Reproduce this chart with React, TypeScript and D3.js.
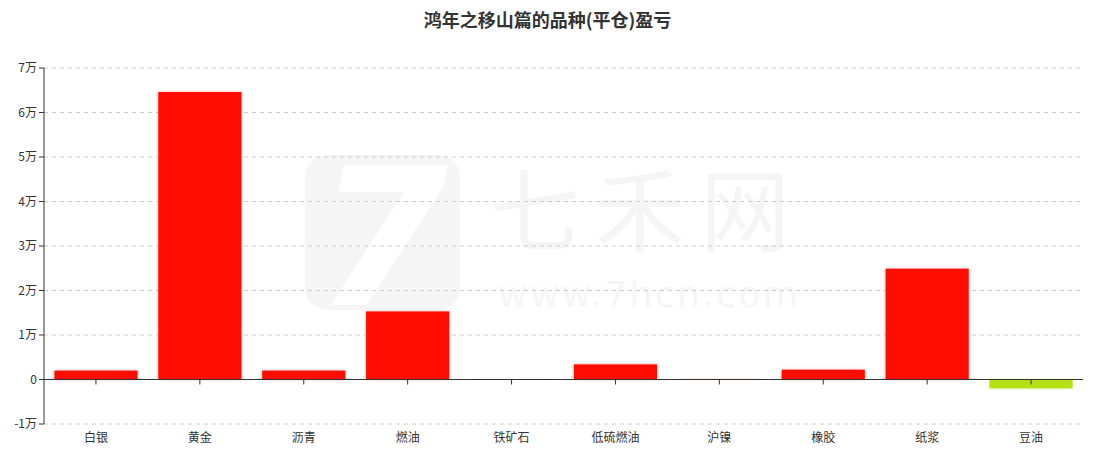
import React from "react";
import * as d3 from "d3";

const categories = ["白银", "黄金", "沥青", "燃油", "铁矿石", "低硫燃油", "沪镍", "橡胶", "纸浆", "豆油"];
const values = [2000, 64600, 2000, 15300, 60, 3400, 120, 2200, 24900, -2000];
const yTicks = [-10000, 0, 10000, 20000, 30000, 40000, 50000, 60000, 70000];
const title = "鸿年之移山篇的品种(平仓)盈亏";

const W = 1095, H = 456;
const left = 44, right = 1083, top = 68, bottom = 424;

export default function App() {
  const x = d3.scaleBand<string>().domain(categories).range([left, right]).paddingInner(0.2).paddingOuter(0.1);
  const xb = d3.scaleBand<string>().domain(categories).range([left, right]);
  const y = d3.scaleLinear().domain([-10000, 70000]).range([bottom, top]);
  const fmt = (v: number) => (v === 0 ? "0" : `${v / 10000}万`);
  const font = "'Noto Sans CJK SC', 'Microsoft YaHei', sans-serif";
  return (
    <svg width={W} height={H} style={{ position: "absolute", left: 0, top: 0, display: "block", background: "#fff" }} fontFamily={font}>
      <defs>
        <filter id="glowR" x="-10%" y="-50%" width="120%" height="200%">
          <feDropShadow dx="0" dy="0" stdDeviation="1.5" floodColor="#ff0000" floodOpacity="0.35" />
        </filter>
        <filter id="glowG" x="-10%" y="-50%" width="120%" height="200%">
          <feDropShadow dx="0" dy="0" stdDeviation="1.5" floodColor="#b5e015" floodOpacity="0.4" />
        </filter>
      </defs>
      {/* watermark */}
      <g>
        <rect x={305} y={155} width={155} height={155} rx={22} fill="#f5f5f5" />
        <text x={382} y={305} textAnchor="middle" fontSize={190} fontStyle="italic" fontWeight="bold" fill="#fff" fontFamily="'DejaVu Sans', sans-serif">7</text>
        <text x={640} y={244} textAnchor="middle" fontSize={90} fill="#f5f5f5" textLength={300} lengthAdjust="spacing">七禾网</text>
        <text x={648} y={307} textAnchor="middle" fontSize={36} fill="#f5f5f5" fontFamily="'DejaVu Sans', sans-serif" textLength={300} lengthAdjust="spacing">www.7hcn.com</text>
      </g>
      <text x={W / 2} y={27} textAnchor="middle" fontSize={18} fontWeight="bold" fill="#333">{title}</text>
      {yTicks.map((t) => (
        <g key={t}>
          <line x1={left} x2={right} y1={y(t)} y2={y(t)} stroke="#ccc" strokeDasharray="4,4" />
          <line x1={left - 5} x2={left} y1={y(t)} y2={y(t)} stroke="#333" />
          <text x={left - 7} y={y(t)} dy="0.35em" textAnchor="end" fontSize={12} fill="#333">{fmt(t)}</text>
        </g>
      ))}
      <line x1={left} x2={left} y1={top} y2={bottom} stroke="#333" />
      {categories.map((c, i) => {
        const v = values[i];
        const y0 = y(0), y1 = y(v);
        return (
          <rect key={c} x={x(c)} width={x.bandwidth()} y={Math.min(y0, y1)} height={Math.max(Math.abs(y1 - y0), 0.5)}
            fill={v >= 0 ? "#ff1100" : "#b5e015"} filter={v >= 0 ? "url(#glowR)" : "url(#glowG)"} />
        );
      })}
      <line x1={left} x2={right} y1={y(0)} y2={y(0)} stroke="#333" />
      {categories.map((c) => {
        const cx = (xb(c) as number) + xb.bandwidth() / 2;
        return (
          <g key={c}>
            <line x1={cx} x2={cx} y1={y(0)} y2={y(0) + 5} stroke="#333" />
            <text x={cx} y={bottom + 18} textAnchor="middle" fontSize={12} fill="#333">{c}</text>
          </g>
        );
      })}
    </svg>
  );
}
